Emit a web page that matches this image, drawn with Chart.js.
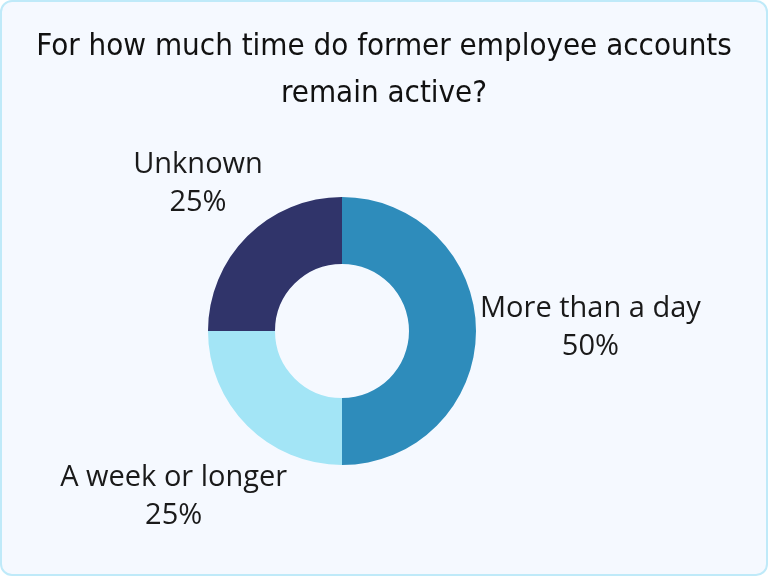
<!DOCTYPE html>
<html>
<head>
<meta charset="utf-8">
<script src="https://cdn.jsdelivr.net/npm/chart.js@4/dist/chart.umd.min.js"></script>
<style>
  html, body { margin: 0; padding: 0; background: #ffffff; }
  #frame {
    position: absolute; left: 0; top: 0; width: 768px; height: 576px;
    box-sizing: border-box; border: 2px solid #bfeaf9; border-radius: 12px;
    background: #f5f9ff;
  }
  #wrap { position: absolute; left: 0; top: 0; width: 768px; height: 576px; }
</style>
</head>
<body>
<div id="frame"></div>
<div id="wrap"><canvas id="chart" width="768" height="576"></canvas></div>
<script>
var categories = ['More than a day', 'A week or longer', 'Unknown'];
var shares = [50, 25, 25];
var colors = ['#2e8cbb', '#a3e5f6', '#30346a'];
var titleLines = ['For how much time do former employee accounts', 'remain active?'];

// the title spans the whole width but the ring sits left of centre,
// so narrow the chart area after layout (title box is already placed)
var shiftRing = {
    id: 'shiftRing',
    afterLayout: function (chart) {
        var area = chart.chartArea;
        area.left = 208;
        area.right = 476;
        area.width = area.right - area.left;
    }
};

// draws "name / value%" outside each slice, pushed out along the mid angle
var outsideLabels = {
    id: 'outsideLabels',
    afterDatasetsDraw: function (chart) {
        var ctx = chart.ctx;
        var meta = chart.getDatasetMeta(0);
        var lineH = 38;
        ctx.save();
        ctx.font = '29px "Open Sans"';
        ctx.fillStyle = '#1a1a1a';
        ctx.textAlign = 'center';
        ctx.textBaseline = 'middle';
        meta.data.forEach(function (arc, i) {
            var lines = [categories[i], shares[i] + '%'];
            var w = Math.max(ctx.measureText(lines[0]).width, ctx.measureText(lines[1]).width);
            var h = 56;
            var mid = (arc.startAngle + arc.endAngle) / 2;
            var c = Math.cos(mid), s = Math.sin(mid);
            var d = arc.outerRadius + 4 + Math.abs(c) * w / 2 + Math.abs(s) * h / 2;
            var cx = arc.x + c * d, cy = arc.y + s * d - 3;
            ctx.fillText(lines[0], cx, cy - lineH / 2);
            ctx.fillText(lines[1], cx, cy + lineH / 2);
        });
        ctx.restore();
    }
};

var chart = new Chart(document.getElementById('chart'), {
    type: 'doughnut',
    data: {
        labels: categories,
        datasets: [{
            data: shares,
            backgroundColor: colors,
            borderWidth: 0,
            hoverOffset: 0
        }]
    },
    options: {
        responsive: false,
        animation: false,
        cutout: '50%',
        layout: { padding: { left: 0, right: 0, top: 0, bottom: 111 } },
        plugins: {
            legend: { display: false },
            tooltip: { enabled: false },
            title: {
                display: true,
                text: titleLines,
                color: '#111111',
                font: { family: '"Liberation Sans Narrow", "DejaVu Sans Condensed", sans-serif', size: 31, weight: 'normal', lineHeight: 1.5 },
                padding: { top: 24, bottom: 80 }
            }
        }
    },
    plugins: [shiftRing, outsideLabels]
});
</script>
</body>
</html>
